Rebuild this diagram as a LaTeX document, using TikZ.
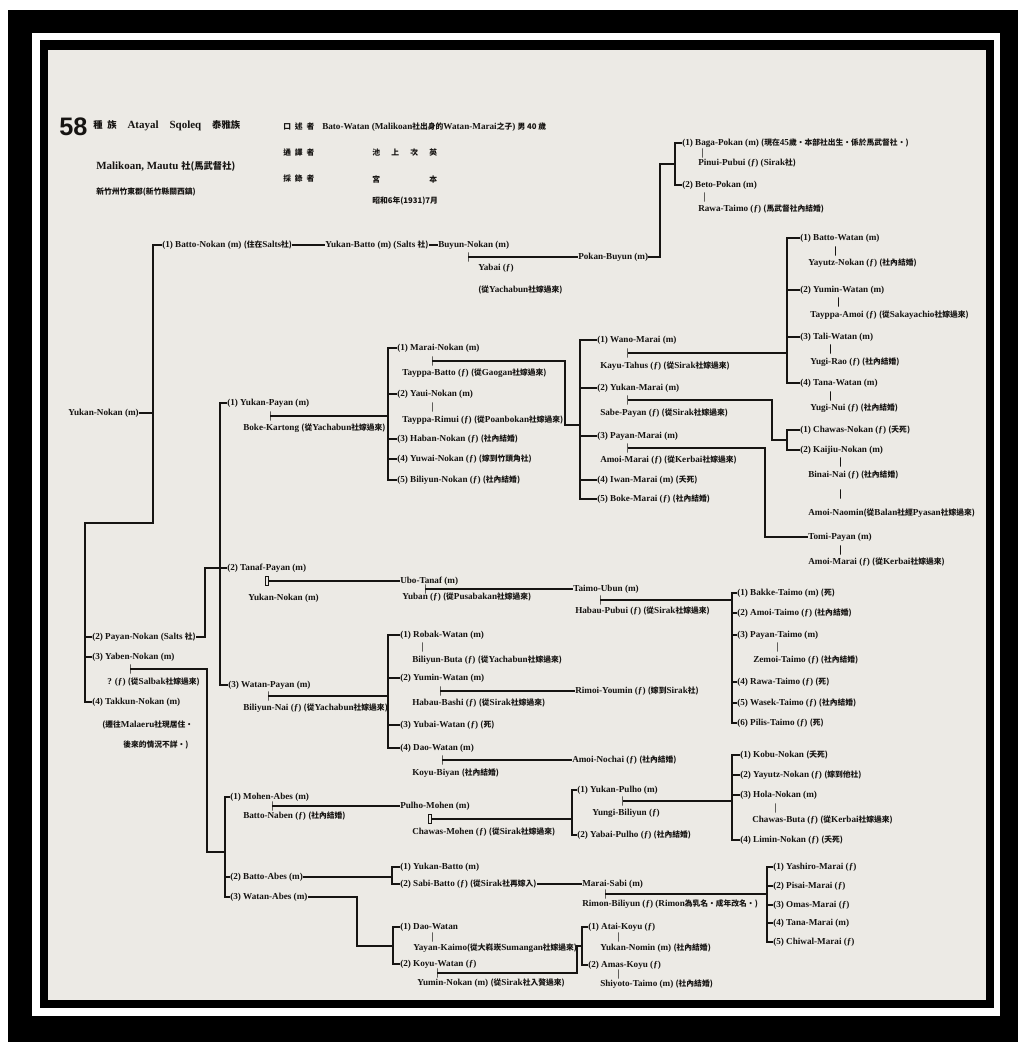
\documentclass[tikz,border=0pt]{standalone}
\usepackage{fontspec}
\setmainfont{Liberation Serif}
\setsansfont{Liberation Sans}
\newfontfamily\cjk{Noto Sans CJK TC}[Scale=0.85]
\usetikzlibrary{positioning}
\definecolor{paper}{RGB}{236,234,229}
\definecolor{ink}{RGB}{22,20,18}
\newcommand{\zh}[1]{{\cjk #1}}
\newcommand{\fem}{(ƒ)}
\newcommand{\nh}{\zh{(社內結婚)}}
\newcommand{\cj}[1]{\zh{(從}#1\zh{社嫁過來)}}
\newcommand{\dd}{\zh{(死)}}
\newcommand{\yd}{\zh{(夭死)}}

\begin{document}
\begin{tikzpicture}[x=0.25mm,y=-0.25mm,
    nm/.style={anchor=west,inner sep=0pt,text=ink,font=\bfseries\fontsize{6.5}{8}\selectfont},
    hd/.style={nm,font=\bfseries\fontsize{7.8}{9}\selectfont},
    link/.style={draw=ink,line width=1.2pt},
    wed/.style={draw=ink,line width=0.7pt,inner sep=0pt,minimum width=0pt,minimum height=6.5pt},
    wedd/.style={wed,minimum width=1.6pt}]
  % frame and page
  \fill[white] (0,0) rectangle (1024,1049);
  \fill[black] (8,10) rectangle (1018,1042);
  \fill[white] (32,33) rectangle (1000,1016);
  \fill[black] (40,40) rectangle (994,1008);
  \fill[paper] (48,50) rectangle (986,1000);
  \useasboundingbox (0,0) rectangle (1024,1049);

  % heading
  \node[font=\sffamily\bfseries\fontsize{18}{18}\selectfont,text=ink,anchor=west,inner sep=0pt] (no) at (59,127) {58};
  \node[hd] (zu) at (93,126) {\zh{種\enspace 族}\quad Atayal\quad Sqoleq\quad \zh{泰雅族}};
  \node[hd] (she) at (96,166) {Malikoan, Mautu \zh{社(馬武督社)}};
  \node[nm] (jun) at (96,192) {\zh{新竹州竹東郡(新竹縣關西鎮)}};
  \node[nm] (kou) at (283,127) {\zh{口\enspace 述\enspace 者}};
  \node[nm] (kout) at (322,127) {Bato-Watan (Malikoan\zh{社出身的}Watan-Marai\zh{之子}) \zh{男 40 歲}};
  \node[nm] (yi) at (283,153) {\zh{通\enspace 譯\enspace 者}};
  \node[nm] (yit) at (372,153) {\zh{池\hspace{8pt}上\hspace{8pt}次\hspace{8pt}英}};
  \node[nm] (lu) at (283,179) {\zh{採\enspace 錄\enspace 者}};
  \node[nm] (lut) at (372,179) {\zh{宮\hspace{35pt}本}};
  \node[nm] (nian) at (372,201) {\zh{昭和6年(1931)7月}};

  % Yukan-Nokan and his sons
  \coordinate (xa) at (153,0);
  \coordinate (xb) at (85,0);
  \coordinate (ka) at (153,523);
  \node[nm] (yn) at (68,413) {Yukan-Nokan (m)};
  \node[nm] (c1) at (162,245) {(1) Batto-Nokan (m) \zh{(住在}Salts\zh{社)}};
  \node[nm] (c2) at (92,637) {(2) Payan-Nokan (Salts \zh{社)}};
  \node[nm] (c3) at (92,657) {(3) Yaben-Nokan (m)};
  \node[wed] (mya) at (130,669) {};
  \node[nm] (c3w) at (107,682) {? \fem\ \cj{Salbak}};
  \node[nm] (c4) at (92,702) {(4) Takkun-Nokan (m)};
  \node[nm] (c4a) at (102,725) {\zh{(遷往}Malaeru\zh{社現居住・}};
  \node[nm] (c4b) at (123,745) {\zh{後來的情況不詳・)}};
  \draw[link] (yn.east) -- (yn.east -| xa);
  \draw[link] (c1.west) -- (c1.west -| xa) -- (ka) -- (ka -| xb) -- (c4.west -| xb) -- (c4.west);
  \foreach \c in {c2,c3} \draw[link] (\c.west) -- (\c.west -| xb);

  % line of Batto-Nokan
  \node[nm] (yb) at (325,245) {Yukan-Batto (m) (Salts \zh{社)}};
  \node[nm] (bu) at (438,245) {Buyun-Nokan (m)};
  \node[wed] (mbu) at (468,257) {};
  \node[nm] (ya) at (478,268) {Yabai \fem};
  \node[nm] (ya2) at (478,290) {\cj{Yachabun}};
  \node[nm] (pb) at (578,257) {Pokan-Buyun (m)};
  \draw[link] (c1.east) -- (yb.west);
  \draw[link] (yb.east) -- (bu.west);
  \draw[link] (mbu) -- (pb.west);

  \coordinate (xp) at (675,0);
  \coordinate (kp) at (660,164);
  \node[nm] (bp) at (682,143) {(1) Baga-Pokan (m) \zh{(現在}45\zh{歲・本部社出生・係於馬武督社・)}};
  \node[wed] (mbp) at (702,153) {};
  \node[nm] (pp) at (698,163) {Pinui-Pubui \fem\ (Sirak\zh{社)}};
  \node[nm] (be) at (682,185) {(2) Beto-Pokan (m)};
  \node[wed] (mbe) at (704,197) {};
  \node[nm] (rt) at (698,209) {Rawa-Taimo \fem\ \zh{(馬武督社內結婚)}};
  \draw[link] (pb.east) -| (kp) -- (kp -| xp);
  \draw[link] (bp.west) -- (bp.west -| xp) -- (be.west -| xp) -- (be.west);

  % Payan-Nokan's sons
  \coordinate (xc) at (220,0);
  \coordinate (kc) at (205,568);
  \node[nm] (yp) at (227,403) {(1) Yukan-Payan (m)};
  \node[wed] (myp) at (270,416) {};
  \node[nm] (bk) at (243,428) {Boke-Kartong \cj{Yachabun}};
  \node[nm] (tn) at (227,568) {(2) Tanaf-Payan (m)};
  \node[wedd] (mtn) at (267,581) {};
  \node[nm] (ykn) at (248,598) {Yukan-Nokan (m)};
  \node[nm] (wp) at (228,685) {(3) Watan-Payan (m)};
  \node[wed] (mwp) at (268,696) {};
  \node[nm] (bln) at (243,708) {Biliyun-Nai \fem\ \cj{Yachabun}};
  \draw[link] (c2.east) -| (kc) -- (tn.west);
  \draw[link] (yp.west) -- (yp.west -| xc) -- (wp.west -| xc) -- (wp.west);

  % children of Yukan-Payan
  \coordinate (xd) at (388,0);
  \node[nm] (mn) at (397,348) {(1) Marai-Nokan (m)};
  \node[wed] (mmn) at (432,361) {};
  \node[nm] (tb) at (402,373) {Tayppa-Batto \fem\ \cj{Gaogan}};
  \node[nm] (yn2) at (397,394) {(2) Yaui-Nokan (m)};
  \node[wed] (myn) at (432,407) {};
  \node[nm] (tr) at (402,420) {Tayppa-Rimui \fem\ \cj{Poanbokan}};
  \node[nm] (hn) at (397,439) {(3) Haban-Nokan \fem\ \nh};
  \node[nm] (yw) at (397,459) {(4) Yuwai-Nokan \fem\ \zh{(嫁到竹頭角社)}};
  \node[nm] (bn) at (397,480) {(5) Biliyun-Nokan \fem\ \nh};
  \draw[link] (myp) -- (myp -| xd);
  \draw[link] (mn.west) -- (mn.west -| xd) -- (bn.west -| xd) -- (bn.west);
  \foreach \c in {yn2,hn,yw} \draw[link] (\c.west) -- (\c.west -| xd);

  % children of Marai-Nokan
  \coordinate (xe) at (580,0);
  \coordinate (ke) at (565,425);
  \node[nm] (wm) at (597,340) {(1) Wano-Marai (m)};
  \node[wed] (mwm) at (627,353) {};
  \node[nm] (kt) at (600,366) {Kayu-Tahus \fem\ \cj{Sirak}};
  \node[nm] (ym) at (597,388) {(2) Yukan-Marai (m)};
  \node[wed] (mym) at (627,400) {};
  \node[nm] (sp) at (600,413) {Sabe-Payan \fem\ \cj{Sirak}};
  \node[nm] (pm) at (597,436) {(3) Payan-Marai (m)};
  \node[wed] (mpm) at (627,448) {};
  \node[nm] (am) at (600,460) {Amoi-Marai \fem\ \cj{Kerbai}};
  \node[nm] (im) at (597,480) {(4) Iwan-Marai (m) \yd};
  \node[nm] (bm) at (597,499) {(5) Boke-Marai \fem\ \nh};
  \draw[link] (mmn) -| (ke) -- (ke -| xe);
  \draw[link] (wm.west) -- (wm.west -| xe) -- (bm.west -| xe) -- (bm.west);
  \foreach \c in {ym,pm,im} \draw[link] (\c.west) -- (\c.west -| xe);

  % grandchildren of Marai-Nokan
  \coordinate (xw) at (787,0);
  \coordinate (kf) at (772,440);
  \coordinate (kg) at (765,537);
  \node[nm] (bw) at (800,238) {(1) Batto-Watan (m)};
  \node[wed] (mbw) at (835,251) {};
  \node[nm] (yy) at (808,263) {Yayutz-Nokan \fem\ \nh};
  \node[nm] (yw2) at (800,290) {(2) Yumin-Watan (m)};
  \node[wed] (myw) at (838,302) {};
  \node[nm] (ta) at (810,315) {Tayppa-Amoi \fem\ \cj{Sakayachio}};
  \node[nm] (tw) at (800,337) {(3) Tali-Watan (m)};
  \node[wed] (mtw) at (830,349) {};
  \node[nm] (yr) at (810,362) {Yugi-Rao \fem\ \nh};
  \node[nm] (tnw) at (800,383) {(4) Tana-Watan (m)};
  \node[wed] (mtnw) at (830,396) {};
  \node[nm] (yn3) at (810,408) {Yugi-Nui \fem\ \nh};
  \node[nm] (cn) at (800,430) {(1) Chawas-Nokan \fem\ \yd};
  \node[nm] (kn) at (800,450) {(2) Kaijiu-Nokan (m)};
  \node[wed] (mkn) at (840,462) {};
  \node[nm] (bnn) at (808,475) {Binai-Nai \fem\ \nh};
  \node[wed] (mbn) at (840,494) {};
  \node[nm] (an) at (808,513) {Amoi-Naomin\zh{(從}Balan\zh{社經}Pyasan\zh{社嫁過來)}};
  \node[nm] (tp) at (808,537) {Tomi-Payan (m)};
  \node[wed] (mtp) at (840,550) {};
  \node[nm] (am2) at (808,562) {Amoi-Marai \fem\ \cj{Kerbai}};
  \draw[link] (mwm) -- (mwm -| xw);
  \draw[link] (bw.west) -- (bw.west -| xw) -- (tnw.west -| xw) -- (tnw.west);
  \foreach \c in {yw2,tw} \draw[link] (\c.west) -- (\c.west -| xw);
  \draw[link] (mym) -| (kf) -- (kf -| xw);
  \draw[link] (cn.west) -- (cn.west -| xw) -- (kn.west -| xw) -- (kn.west);
  \draw[link] (mpm) -| (kg) -- (tp.west);

  % line of Tanaf-Payan
  \coordinate (xt) at (732,0);
  \node[nm] (ub) at (400,581) {Ubo-Tanaf (m)};
  \node[wed] (mub) at (425,589) {};
  \node[nm] (yu) at (402,597) {Yuban \fem\ \cj{Pusabakan}};
  \node[nm] (tu) at (573,589) {Taimo-Ubun (m)};
  \node[wed] (mtu) at (600,600) {};
  \node[nm] (hp) at (575,611) {Habau-Pubui \fem\ \cj{Sirak}};
  \node[nm] (bt) at (737,593) {(1) Bakke-Taimo (m) \dd};
  \node[nm] (amt) at (737,613) {(2) Amoi-Taimo \fem\ \nh};
  \node[nm] (pyt) at (737,635) {(3) Payan-Taimo (m)};
  \node[wed] (mpt) at (777,647) {};
  \node[nm] (zt) at (753,660) {Zemoi-Taimo \fem\ \nh};
  \node[nm] (rwt) at (737,682) {(4) Rawa-Taimo \fem\ \dd};
  \node[nm] (wt) at (737,703) {(5) Wasek-Taimo \fem\ \nh};
  \node[nm] (plt) at (737,723) {(6) Pilis-Taimo \fem\ \dd};
  \draw[link] (mtn) -- (ub.west);
  \draw[link] (mub) -- (tu.west);
  \draw[link] (mtu) -- (mtu -| xt);
  \draw[link] (bt.west) -- (bt.west -| xt) -- (plt.west -| xt) -- (plt.west);
  \foreach \c in {amt,pyt,rwt,wt} \draw[link] (\c.west) -- (\c.west -| xt);

  % children of Watan-Payan
  \node[nm] (rw) at (400,635) {(1) Robak-Watan (m)};
  \node[wed] (mrw) at (422,647) {};
  \node[nm] (bb) at (412,660) {Biliyun-Buta \fem\ \cj{Yachabun}};
  \node[nm] (ymw) at (400,678) {(2) Yumin-Watan (m)};
  \node[wed] (mymw) at (440,691) {};
  \node[nm] (hb) at (412,703) {Habau-Bashi \fem\ \cj{Sirak}};
  \node[nm] (ry) at (575,691) {Rimoi-Youmin \fem\ \zh{(嫁到}Sirak\zh{社)}};
  \node[nm] (ybw) at (400,725) {(3) Yubai-Watan \fem\ \dd};
  \node[nm] (dw) at (400,748) {(4) Dao-Watan (m)};
  \node[wed] (mdw) at (442,760) {};
  \node[nm] (kb) at (412,773) {Koyu-Biyan \nh};
  \node[nm] (an2) at (572,760) {Amoi-Nochai \fem\ \nh};
  \draw[link] (mwp) -- (mwp -| xd);
  \draw[link] (rw.west) -- (rw.west -| xd) -- (dw.west -| xd) -- (dw.west);
  \foreach \c in {ymw,ybw} \draw[link] (\c.west) -- (\c.west -| xd);
  \draw[link] (mymw) -- (ry.west);
  \draw[link] (mdw) -- (an2.west);

  % children of Yaben-Nokan
  \coordinate (xh) at (225,0);
  \coordinate (kh) at (207,852);
  \node[nm] (ma) at (230,797) {(1) Mohen-Abes (m)};
  \node[wed] (mma) at (272,806) {};
  \node[nm] (bnb) at (243,816) {Batto-Naben \fem\ \nh};
  \node[nm] (ba) at (230,877) {(2) Batto-Abes (m)};
  \node[nm] (wa) at (230,897) {(3) Watan-Abes (m)};
  \draw[link] (mya) -| (kh) -- (kh -| xh);
  \draw[link] (ma.west) -- (ma.west -| xh) -- (wa.west -| xh) -- (wa.west);
  \draw[link] (ba.west) -- (ba.west -| xh);

  % line of Mohen-Abes
  \coordinate (xi) at (572,0);
  \node[nm] (pm2) at (400,806) {Pulho-Mohen (m)};
  \node[wedd] (mpm2) at (430,819) {};
  \node[nm] (cm) at (412,832) {Chawas-Mohen \fem\ \cj{Sirak}};
  \node[nm] (yph) at (577,790) {(1) Yukan-Pulho (m)};
  \node[wed] (myph) at (622,801) {};
  \node[nm] (ybl) at (592,813) {Yungi-Biliyun \fem};
  \node[nm] (yap) at (577,835) {(2) Yabai-Pulho \fem\ \nh};
  \node[nm] (kbn) at (740,755) {(1) Kobu-Nokan \yd};
  \node[nm] (yzn) at (740,775) {(2) Yayutz-Nokan \fem\ \zh{(嫁到他社)}};
  \node[nm] (hln) at (740,795) {(3) Hola-Nokan (m)};
  \node[wed] (mhl) at (775,808) {};
  \node[nm] (cb) at (752,820) {Chawas-Buta \fem\ \cj{Kerbai}};
  \node[nm] (lmn) at (740,840) {(4) Limin-Nokan \fem\ \yd};
  \draw[link] (mma) -- (pm2.west);
  \draw[link] (mpm2) -- (mpm2 -| xi);
  \draw[link] (yph.west) -- (yph.west -| xi) -- (yap.west -| xi) -- (yap.west);
  \draw[link] (myph) -- (myph -| xt);
  \draw[link] (kbn.west) -- (kbn.west -| xt) -- (lmn.west -| xt) -- (lmn.west);
  \foreach \c in {yzn,hln} \draw[link] (\c.west) -- (\c.west -| xt);

  % line of Batto-Abes
  \coordinate (xj) at (392,0);
  \coordinate (xk) at (767,0);
  \node[nm] (ybt) at (400,867) {(1) Yukan-Batto (m)};
  \node[nm] (sb) at (400,884) {(2) Sabi-Batto \fem\ \zh{(從}Sirak\zh{社再嫁入)}};
  \node[nm] (ms) at (582,884) {Marai-Sabi (m)};
  \node[wed] (mms) at (605,894) {};
  \node[nm] (rb) at (582,904) {Rimon-Biliyun \fem\ (Rimon\zh{為乳名・成年改名・)}};
  \node[nm] (ysm) at (773,867) {(1) Yashiro-Marai \fem};
  \node[nm] (psm) at (773,886) {(2) Pisai-Marai \fem};
  \node[nm] (osm) at (773,905) {(3) Omas-Marai \fem};
  \node[nm] (tsm) at (773,923) {(4) Tana-Marai (m)};
  \node[nm] (csm) at (773,942) {(5) Chiwal-Marai \fem};
  \draw[link] (ba.east) -- (ba.east -| xj);
  \draw[link] (ybt.west) -- (ybt.west -| xj) -- (sb.west -| xj) -- (sb.west);
  \draw[link] (sb.east) -- (ms.west);
  \draw[link] (mms) -- (mms -| xk);
  \draw[link] (ysm.west) -- (ysm.west -| xk) -- (csm.west -| xk) -- (csm.west);
  \foreach \c in {psm,osm,tsm} \draw[link] (\c.west) -- (\c.west -| xk);

  % line of Watan-Abes
  \coordinate (xl) at (393,0);
  \coordinate (kl) at (357,946);
  \coordinate (xm) at (582,0);
  \coordinate (km) at (577,946);
  \node[nm] (dwt) at (400,927) {(1) Dao-Watan};
  \node[wed] (mdwt) at (432,937) {};
  \node[nm] (yk) at (413,948) {Yayan-Kaimo\zh{(從大嵙崁}Sumangan\zh{社嫁過來)}};
  \node[nm] (kw) at (400,964) {(2) Koyu-Watan \fem};
  \node[wed] (mkw) at (437,973) {};
  \node[nm] (ymn) at (417,983) {Yumin-Nokan (m) \zh{(從}Sirak\zh{社入贅過來)}};
  \node[nm] (ak) at (588,927) {(1) Atai-Koyu \fem};
  \node[wed] (mak) at (618,937) {};
  \node[nm] (yn4) at (600,948) {Yukan-Nomin (m) \nh};
  \node[nm] (amk) at (588,965) {(2) Amas-Koyu \fem};
  \node[wed] (mamk) at (618,974) {};
  \node[nm] (st) at (600,984) {Shiyoto-Taimo (m) \nh};
  \draw[link] (wa.east) -| (kl) -- (kl -| xl);
  \draw[link] (dwt.west) -- (dwt.west -| xl) -- (kw.west -| xl) -- (kw.west);
  \draw[link] (mkw) -| (km) -- (km -| xm);
  \draw[link] (ak.west) -- (ak.west -| xm) -- (amk.west -| xm) -- (amk.west);
\end{tikzpicture}
\end{document}
